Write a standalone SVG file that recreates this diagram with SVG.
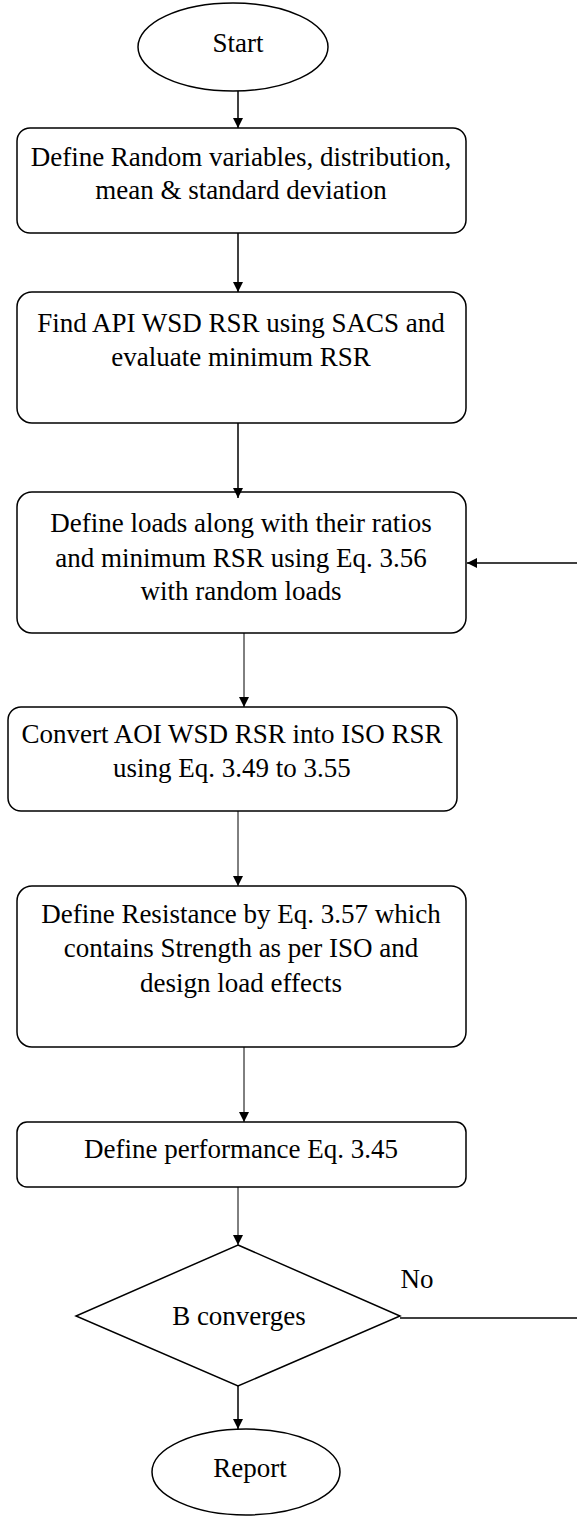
<svg xmlns="http://www.w3.org/2000/svg" width="577" height="1516" viewBox="0 0 577 1516">
<defs>
<marker id="ah" viewBox="0 0 10 10" refX="10" refY="5" markerWidth="10" markerHeight="10" markerUnits="userSpaceOnUse" orient="auto">
<path d="M0,0 L10,5 L0,10 Z" fill="#000"/>
</marker>
<marker id="ah2" viewBox="0 0 10 10" refX="10" refY="5" markerWidth="12" markerHeight="10" markerUnits="userSpaceOnUse" orient="auto">
<path d="M0,0 L10,5 L0,10 Z" fill="#000"/>
</marker>
</defs>
<style>
.n{fill:#fff;stroke:#000;stroke-width:1.5}
.t{font-family:"Liberation Serif","DejaVu Serif",serif;font-size:27px;fill:#000;text-anchor:middle}
.c{fill:none;stroke:#000;stroke-width:1.5}
.c1{fill:none;stroke:#000;stroke-width:1}
</style>
<rect width="577" height="1516" fill="#fff"/>
<g id="start"><ellipse class="n" cx="233" cy="47" rx="95" ry="44"/><text class="t" x="238" y="52">Start</text></g>
<g id="n1"><rect class="n" x="17" y="128" width="449" height="105" rx="13"/><text class="t" x="241" y="166">Define Random variables, distribution,</text><text class="t" x="241" y="199">mean &amp; standard deviation</text></g>
<g id="n2"><rect class="n" x="17" y="292" width="449" height="131" rx="15"/><text class="t" x="241" y="332">Find API WSD RSR using SACS and</text><text class="t" x="241" y="366">evaluate minimum RSR</text></g>
<g id="n3"><rect class="n" x="17" y="492" width="449" height="141" rx="15"/><text class="t" x="241" y="532">Define loads along with their ratios</text><text class="t" x="241" y="567">and minimum RSR using Eq. 3.56</text><text class="t" x="241" y="600">with random loads</text></g>
<g id="n4"><rect class="n" x="8" y="707" width="449" height="104" rx="13"/><text class="t" x="232" y="743">Convert AOI WSD RSR into ISO RSR</text><text class="t" x="232" y="777">using Eq. 3.49 to 3.55</text></g>
<g id="n5"><rect class="n" x="17" y="886" width="449" height="161" rx="15"/><text class="t" x="241" y="923">Define Resistance by Eq. 3.57 which</text><text class="t" x="241" y="957">contains Strength as per ISO and</text><text class="t" x="241" y="992">design load effects</text></g>
<g id="n6"><rect class="n" x="17" y="1122" width="449" height="65" rx="10"/><text class="t" x="241" y="1158">Define performance Eq. 3.45</text></g>
<g id="dec"><polygon class="n" points="238,1245 400,1316 238,1386 76,1316"/><text class="t" x="239" y="1325">B converges</text></g>
<g id="report"><ellipse class="n" cx="246" cy="1472" rx="94" ry="43"/><text class="t" x="250" y="1477">Report</text></g>
<g id="connectors">
<line class="c" x1="238" y1="91" x2="238" y2="128" marker-end="url(#ah)"/>
<line class="c" x1="238" y1="233" x2="238" y2="292" marker-end="url(#ah)"/>
<line class="c" x1="238" y1="423" x2="238" y2="498" marker-end="url(#ah)"/>
<line class="c1" x1="244" y1="633" x2="244" y2="707" marker-end="url(#ah)"/>
<line class="c1" x1="238" y1="811" x2="238" y2="886" marker-end="url(#ah)"/>
<line class="c1" x1="244" y1="1047" x2="244" y2="1122" marker-end="url(#ah)"/>
<line class="c1" x1="238" y1="1187" x2="238" y2="1245" marker-end="url(#ah)"/>
<line class="c" x1="238" y1="1386" x2="238" y2="1429" marker-end="url(#ah)"/>
<line class="c" x1="400" y1="1318" x2="577" y2="1318"/>
<line class="c" x1="577" y1="563" x2="467" y2="563" marker-end="url(#ah2)"/>
<text class="t" x="417" y="1288">No</text>
</g>
</svg>
